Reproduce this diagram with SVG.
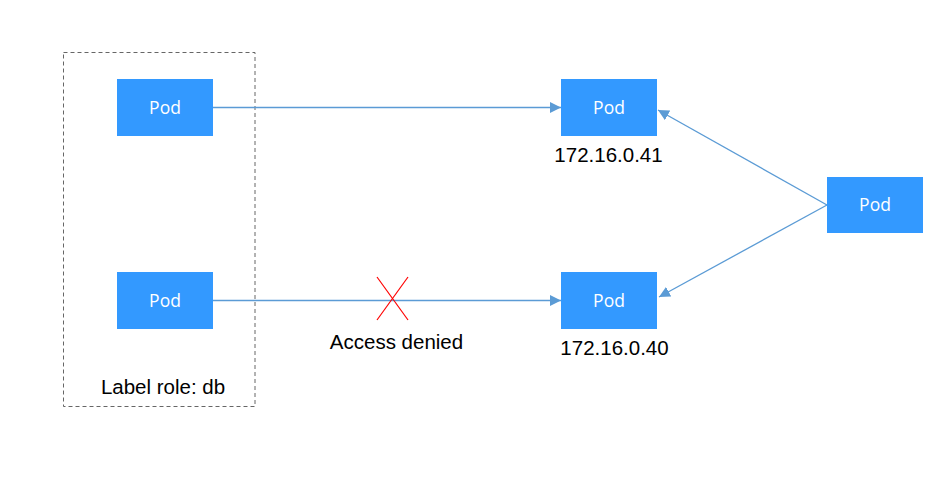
<svg xmlns="http://www.w3.org/2000/svg" width="951" height="492" viewBox="0 0 951 492">
<style>
.pod{fill:#3399ff}
.pt{fill:#fff;font-family:"Open Sans","Noto Sans",sans-serif;font-size:17.5px;text-anchor:middle}
.lbl{fill:#000;font-family:"Liberation Sans",Arial,sans-serif;font-size:20.5px;text-anchor:middle}
.ln{stroke:#5b9bd5;stroke-width:1.3;fill:none;marker-end:url(#ah)}
</style>
<defs>
<marker id="ah" viewBox="0 0 10 10" refX="10" refY="5" markerWidth="11" markerHeight="11" markerUnits="userSpaceOnUse" orient="auto">
<path d="M0,0 L10,5 L0,10 Z" fill="#5b9bd5"/>
</marker>
</defs>
<rect width="951" height="492" fill="#fff"/>
<g id="group-db">
<rect x="63.5" y="52.5" width="191.5" height="354" fill="none" stroke="#666" stroke-width="1" stroke-dasharray="4,3"/>
<text class="lbl" x="163" y="394">Label role: db</text>
</g>
<g id="connectors">
<line class="ln" x1="213" y1="107.5" x2="561" y2="107.5"/>
<line class="ln" x1="213" y1="300.5" x2="561" y2="300.5"/>
<line class="ln" x1="827" y1="205" x2="658" y2="110"/>
<line class="ln" x1="827" y1="205" x2="659" y2="297"/>
</g>
<g id="denied">
<line x1="377" y1="277" x2="408" y2="320" stroke="#ff0000" stroke-width="1.2"/>
<line x1="408" y1="277" x2="377" y2="320" stroke="#ff0000" stroke-width="1.2"/>
<text class="lbl" x="396.5" y="349">Access denied</text>
</g>
<g id="pod-db1"><rect class="pod" x="117" y="79" width="96" height="57"/><text class="pt" x="165" y="113.5">Pod</text></g>
<g id="pod-db2"><rect class="pod" x="117" y="272" width="96" height="57"/><text class="pt" x="165" y="306.5">Pod</text></g>
<g id="pod-41"><rect class="pod" x="561" y="79" width="96" height="57"/><text class="pt" x="609" y="113.5">Pod</text><text class="lbl" x="608.5" y="162">172.16.0.41</text></g>
<g id="pod-40"><rect class="pod" x="561" y="272" width="96" height="57"/><text class="pt" x="609" y="306.5">Pod</text><text class="lbl" x="614.5" y="355">172.16.0.40</text></g>
<g id="pod-src"><rect class="pod" x="827" y="177" width="96" height="56"/><text class="pt" x="875" y="211">Pod</text></g>
</svg>
